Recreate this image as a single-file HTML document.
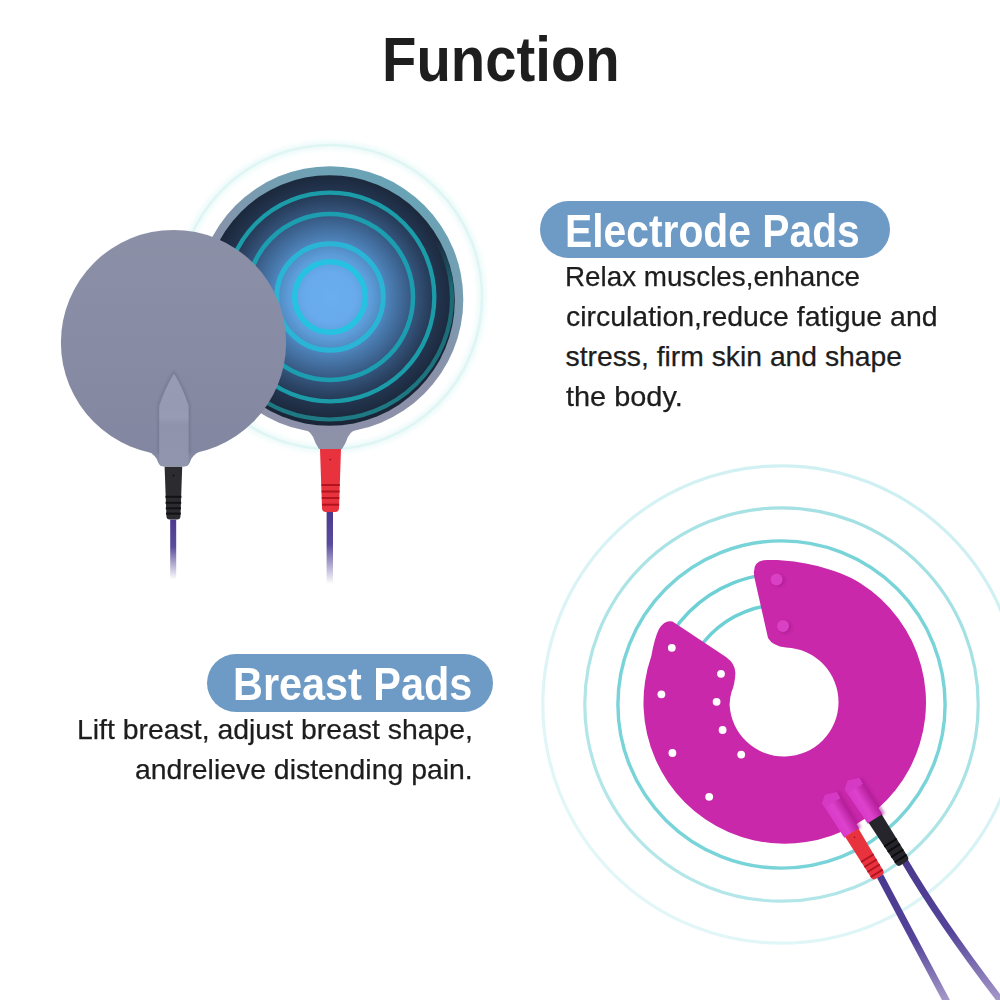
<!DOCTYPE html>
<html><head><meta charset="utf-8">
<style>
html,body{margin:0;padding:0;background:#fff;}
body{width:1000px;height:1000px;position:relative;overflow:hidden;font-family:"Liberation Sans",sans-serif;}
.t{position:absolute;white-space:nowrap;line-height:1;transform-origin:0 0;}
#title{font-weight:bold;font-size:63px;color:#1e1e1e;left:382.4px;top:28px;transform:scaleX(0.894);}
.pill{position:absolute;background:#6e9bc5;border-radius:29px;}
.ph{font-weight:bold;color:#fff;font-size:46px;}
.body{font-size:28.3px;color:#1d1d1d;-webkit-text-stroke:0.25px #1d1d1d;}
svg{position:absolute;left:0;top:0;}
</style></head>
<body>
<svg width="1000" height="1000" viewBox="0 0 1000 1000">
<defs>
  <radialGradient id="gInner" cx="330" cy="297" r="126" gradientUnits="userSpaceOnUse">
    <stop offset="0" stop-color="#6aaef0"/>
    <stop offset="0.2" stop-color="#68aaec"/>
    <stop offset="0.33" stop-color="#5c9cd8"/>
    <stop offset="0.46" stop-color="#4c80b6"/>
    <stop offset="0.64" stop-color="#385a84"/>
    <stop offset="0.85" stop-color="#22344e"/>
    <stop offset="1" stop-color="#1a2638"/>
  </radialGradient>
  <linearGradient id="gRim" x1="385" y1="165" x2="300" y2="320" gradientUnits="userSpaceOnUse">
    <stop offset="0" stop-color="#67a4b6"/>
    <stop offset="0.4" stop-color="#759eb2"/>
    <stop offset="0.75" stop-color="#8594ab"/>
    <stop offset="1" stop-color="#8c90a8"/>
  </linearGradient>
  <linearGradient id="gGrey" x1="0" y1="229" x2="0" y2="466" gradientUnits="userSpaceOnUse">
    <stop offset="0" stop-color="#8c90a7"/>
    <stop offset="1" stop-color="#8286a0"/>
  </linearGradient>
  <linearGradient id="gRing5" x1="0" y1="180" x2="0" y2="420" gradientUnits="userSpaceOnUse">
    <stop offset="0" stop-color="#1b6e78" stop-opacity="0"/>
    <stop offset="0.25" stop-color="#1b6e78" stop-opacity="0"/>
    <stop offset="0.45" stop-color="#1b747e" stop-opacity="0.85"/>
    <stop offset="1" stop-color="#1e7a84" stop-opacity="1"/>
  </linearGradient>
  <linearGradient id="gCableV" x1="0" y1="0" x2="0" y2="1">
    <stop offset="0" stop-color="#4a3a8e"/>
    <stop offset="0.45" stop-color="#5a4c9c"/>
    <stop offset="1" stop-color="#5a4c9c" stop-opacity="0"/>
  </linearGradient>
  <linearGradient id="gCableD1" x1="0" y1="880" x2="0" y2="1000" gradientUnits="userSpaceOnUse">
    <stop offset="0" stop-color="#4a3a8e"/>
    <stop offset="0.5" stop-color="#54449a"/>
    <stop offset="1" stop-color="#a498c8"/>
  </linearGradient>
  <linearGradient id="gCableD2" x1="0" y1="862" x2="0" y2="1000" gradientUnits="userSpaceOnUse">
    <stop offset="0" stop-color="#4a3a8e"/>
    <stop offset="0.5" stop-color="#54449a"/>
    <stop offset="1" stop-color="#a498c8"/>
  </linearGradient>
  <linearGradient id="gTab" x1="0" y1="373" x2="0" y2="466" gradientUnits="userSpaceOnUse">
    <stop offset="0" stop-color="#989cb3"/>
    <stop offset="0.4" stop-color="#969ab2"/>
    <stop offset="0.47" stop-color="#989cb4"/>
    <stop offset="0.55" stop-color="#8f93ab"/>
    <stop offset="1" stop-color="#9195ad"/>
  </linearGradient>
  <linearGradient id="gRingA" x1="950" y1="480" x2="620" y2="930" gradientUnits="userSpaceOnUse">
    <stop offset="0" stop-color="#cdeff2"/>
    <stop offset="1" stop-color="#e4f7f8"/>
  </linearGradient>
  <linearGradient id="gRingB" x1="950" y1="480" x2="620" y2="930" gradientUnits="userSpaceOnUse">
    <stop offset="0" stop-color="#a0dfe2"/>
    <stop offset="1" stop-color="#b8e8ea"/>
  </linearGradient>
  <linearGradient id="gCap" x1="0" y1="0" x2="1" y2="0">
    <stop offset="0" stop-color="#d93ac8"/>
    <stop offset="0.45" stop-color="#dc42cc"/>
    <stop offset="1" stop-color="#b8209e"/>
  </linearGradient>
  <filter id="fSoft" x="-10%" y="-10%" width="120%" height="120%"><feGaussianBlur stdDeviation="0.6"/></filter>
  <filter id="fBlur2" x="-20%" y="-20%" width="140%" height="140%"><feGaussianBlur stdDeviation="2.5"/></filter>
  <filter id="fBlur" x="-20%" y="-20%" width="140%" height="140%"><feGaussianBlur stdDeviation="1.5"/></filter>
</defs>

<!-- ===== Electrode pads ===== -->
<circle cx="330" cy="297" r="152" fill="none" stroke="#d8f5f3" stroke-width="7" filter="url(#fBlur2)" opacity="0.55"/>
<circle cx="330" cy="297" r="152" fill="none" stroke="#cff1f0" stroke-width="2.5" filter="url(#fSoft)" opacity="0.45"/>
<!-- dark pad tab -->
<path d="M296,415 L364,415 L357.5,429.5 Q349,430.5 345.5,443 L342,449 L319,449 L315.5,443 Q312,430.5 303.5,429.5 Z" fill="#8e92a8"/>
<circle cx="330" cy="299.5" r="133.3" fill="url(#gRim)"/>
<circle cx="329.5" cy="300.5" r="125.3" fill="url(#gInner)"/>
<ellipse cx="329.5" cy="298.5" rx="122.5" ry="121" fill="none" stroke="url(#gRing5)" stroke-width="4.2"/>
<g fill="none" filter="url(#fSoft)">
  <circle cx="330" cy="297" r="104.3" stroke="#1a9ca8" stroke-width="4.3"/>
  <circle cx="330" cy="297" r="83" stroke="#1a9eb0" stroke-width="4.5"/>
  <circle cx="330" cy="297" r="53.2" stroke="#2ab4d6" stroke-width="5"/>
  <circle cx="330" cy="297" r="35.3" stroke="#26c2e2" stroke-width="5.5"/>
</g>
<!-- red plug -->
<path d="M320,449 L341,449 L339,508 Q339,512 335,512 L326,512 Q322,512 322,508 Z" fill="#e8323e"/>
<g stroke="#b3121f" stroke-width="2"><line x1="321.5" y1="485" x2="339.7" y2="485"/><line x1="321.6" y1="491.5" x2="339.6" y2="491.5"/><line x1="321.8" y1="498" x2="339.4" y2="498"/><line x1="322" y1="504.7" x2="339.2" y2="504.7"/></g>
<circle cx="330.2" cy="459.6" r="0.9" fill="#a0101a"/>
<rect x="326.6" y="512" width="6.4" height="72" fill="url(#gCableV)"/>

<!-- grey pad -->
<path d="M146,450 Q156,455 158,462 L158.5,463 Q160,466.5 164,466.5 L184,466.5 Q188,466.5 189.5,463 L190,462 Q192,455 202,450 Z" fill="#8589a2"/>
<circle cx="173.5" cy="342.5" r="112.6" fill="url(#gGrey)"/>
<path d="M174,373.4 Q183,388 188.6,405.8 L188.6,452 L159.2,452 L159.2,405.8 Q165,388 174,373.4 Z" fill="none" stroke="#6c718a" stroke-width="2.5" filter="url(#fBlur)" opacity="0.8"/>
<path d="M174,373.4 Q183,388 188.6,405.8 L188.6,461 Q188.6,466.3 183.6,466.3 L164.2,466.3 Q159.2,466.3 159.2,461 L159.2,405.8 Q165,388 174,373.4 Z" fill="url(#gTab)"/>
<!-- black plug -->
<path d="M164.6,466.8 L182.2,466.8 L180.5,516 Q180.5,519.6 177,519.6 L170,519.6 Q166.4,519.6 166.4,516 Z" fill="#2c2c30"/>
<g stroke="#121214" stroke-width="2"><line x1="165.5" y1="496.8" x2="181.4" y2="496.8"/><line x1="165.6" y1="502.8" x2="181.2" y2="502.8"/><line x1="165.8" y1="508.3" x2="181" y2="508.3"/><line x1="166" y1="513.6" x2="180.8" y2="513.6"/></g>
<circle cx="173.5" cy="475.5" r="0.9" fill="#111"/>
<rect x="170.2" y="519.6" width="6" height="60" fill="url(#gCableV)"/>

<!-- ===== Breast pad ===== -->
<g fill="none">
  <circle cx="781.5" cy="704.5" r="238.7" stroke="url(#gRingA)" stroke-width="3.2"/>
  <circle cx="781.5" cy="704.5" r="196.7" stroke="url(#gRingB)" stroke-width="3.2"/>
  <circle cx="781.5" cy="704.5" r="163.6" stroke="#78d4d8" stroke-width="3.4"/>
  <circle cx="781.5" cy="704.5" r="130.8" stroke="#6cd0d5" stroke-width="3.4"/>
  <circle cx="781.5" cy="704.5" r="99.7" stroke="#6cd0d5" stroke-width="3.4"/>
</g>
<path d="M763.5,560.3 C790,558 834.6,566.9 860,582.9 A141.25,141.25 0 1 1 651.35,656 Q654.5,638 659,629 Q664.5,619.5 672.5,621.5 L726,657 Q735.5,664 735.4,673 Q735,684 731.5,692 Q729.5,699 729.6,705 A54.5,54.5 0 1 0 786,647.6 Q772.5,646 768,638 L754.5,578 Q751.5,562 763.5,560.3 Z" fill="#c928aa"/>
<g fill="#fff">
  <circle cx="671.8" cy="647.8" r="3.9"/>
  <circle cx="721" cy="673.8" r="3.9"/>
  <circle cx="661.4" cy="694.3" r="3.9"/>
  <circle cx="716.6" cy="701.8" r="3.9"/>
  <circle cx="722.6" cy="730" r="3.9"/>
  <circle cx="672.4" cy="753" r="3.9"/>
  <circle cx="741.2" cy="754.6" r="3.9"/>
  <circle cx="709.2" cy="796.8" r="3.9"/>
</g>
<g fill="#a51a8c" filter="url(#fBlur)" opacity="0.7">
  <circle cx="778.6" cy="580.4" r="6"/>
  <circle cx="785.2" cy="627.2" r="6"/>
</g>
<g fill="#da40c4">
  <circle cx="776.6" cy="579.6" r="6"/>
  <circle cx="783" cy="626.1" r="6"/>
</g>

<!-- connectors -->
<path d="M880,876 L947,1002" stroke="url(#gCableD1)" stroke-width="7" fill="none"/>
<path d="M904,860 C921,889 948,932 1001,1001" stroke="url(#gCableD2)" stroke-width="7" fill="none"/>
<g filter="url(#fBlur)" fill="#a0168a" opacity="0.55">
  <rect x="-7" y="2" width="18" height="42" transform="translate(829,795.5) rotate(-31.5)"/>
  <rect x="-7" y="2" width="18" height="43" transform="translate(851.5,781.5) rotate(-32.5)"/>
</g>
<g transform="translate(829,795.5) rotate(-31.5)">
  <path d="M-10,3 L-3,-2.5 L8.5,1 L8.5,44 L-9,44 Z" fill="url(#gCap)"/>
  <path d="M-10,3 L-3,-2.5 L8.5,1 L8.5,8 L-9.7,8 Z" fill="#d63ac4"/>
  <path d="M-7.8,43.5 L7.8,43.5 L7,92 Q7,95.5 3.5,95.5 L-3.5,95.5 Q-7,95.5 -7,92 Z" fill="#e8333f"/>
  <g stroke="#b3121f" stroke-width="1.8"><line x1="-7.4" y1="73.5" x2="7.4" y2="73.5"/><line x1="-7.3" y1="79.5" x2="7.3" y2="79.5"/><line x1="-7.2" y1="85.4" x2="7.2" y2="85.4"/><line x1="-7.1" y1="91.3" x2="7.1" y2="91.3"/></g>
  <circle cx="0" cy="49" r="0.8" fill="#a0101a"/>
</g>
<g transform="translate(851.5,781.5) rotate(-32.5)">
  <path d="M-10,3 L-3,-2.5 L8.5,1 L8.5,44.5 L-9,44.5 Z" fill="url(#gCap)"/>
  <path d="M-10,3 L-3,-2.5 L8.5,1 L8.5,8 L-9.7,8 Z" fill="#d63ac4"/>
  <path d="M-7.8,44 L7.8,44 L7,93.5 Q7,97 3.5,97 L-3.5,97 Q-7,97 -7,93.5 Z" fill="#25252b"/>
  <g stroke="#0c0c0e" stroke-width="1.8"><line x1="-7.4" y1="72.5" x2="7.4" y2="72.5"/><line x1="-7.3" y1="78.8" x2="7.3" y2="78.8"/><line x1="-7.2" y1="85.1" x2="7.2" y2="85.1"/><line x1="-7.1" y1="91.4" x2="7.1" y2="91.4"/></g>
</g>
</svg>
<div id="title" class="t">Function</div>
<div class="pill" style="left:540px;top:200.5px;width:350px;height:57px;"></div>
<div id="h1" class="t ph" style="left:565.3px;top:208px;transform:scaleX(0.887);">Electrode Pads</div>
<div id="b1" class="t body" style="left:564.5px;top:262px;transform:scaleX(0.982);">Relax muscles,enhance</div>
<div id="b2" class="t body" style="left:565.5px;top:302px;transform:scaleX(1.005);">circulation,reduce fatigue and</div>
<div id="b3" class="t body" style="left:565.5px;top:342px;">stress, firm skin and shape</div>
<div id="b4" class="t body" style="left:566px;top:382px;transform:scaleX(1.021);">the body.</div>
<div class="pill" style="left:207px;top:654.3px;width:285.5px;height:57.3px;"></div>
<div id="h2" class="t ph" style="left:233.3px;top:661px;transform:scaleX(0.900);">Breast Pads</div>
<div id="b5" class="t body" style="left:77px;top:715px;transform:scaleX(1.003);">Lift breast, adjust breast shape,</div>
<div id="b6" class="t body" style="left:135px;top:755px;transform:scaleX(1.003);">andrelieve distending pain.</div>
</body></html>
